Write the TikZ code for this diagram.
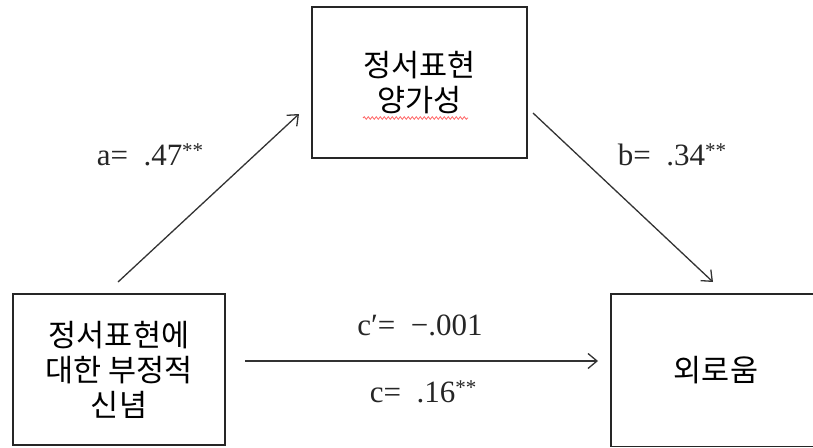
\documentclass[tikz,border=0pt]{standalone}
\usepackage{fontspec}
\setmainfont{Liberation Serif}
\newfontfamily\kr{Noto Sans CJK KR}
\usetikzlibrary{arrows.meta,decorations.pathmorphing}
\newcommand{\stars}{\raisebox{0.55ex}{\fontsize{21}{21}\selectfont **}}
\begin{document}
\begin{tikzpicture}[x=1pt,y=-1pt,
  boxline/.style={draw=black!85,line width=1.6pt},
  varbox/.style={boxline,minimum width=#1,minimum height=151pt,inner sep=0pt,
    font=\kr\fontsize{30.5}{35}\selectfont,align=center},
  patharrow/.style={draw=black!80,line width=1.3pt,-{Straight Barb[length=9pt,width=15pt,line width=1.3pt]}},
  coef/.style={font=\fontsize{31}{34}\selectfont,inner sep=0pt,text=black!85}]
\useasboundingbox (0,0) rectangle (813,447);
\node[varbox=215pt] (M) at (419.5,82.5) {정서표현\\양가성};
\node[varbox=212pt] (X) at (119,369.5) {정서표현에\\대한 부정적\\신념};
\node[varbox=230pt,draw=none] (Y) at (727,370) {};
\draw[boxline] (Y.north east) -- (Y.north west) -- (Y.south west) -- (Y.south east);
\node[font=\kr\fontsize{30.5}{35}\selectfont,inner sep=0pt] (Yt) at (716,370) {외로움};
\coordinate (a1) at (118,282);
\coordinate (a2) at (299,114);
\coordinate (b1) at (533,113);
\coordinate (b2) at (713,282);
\coordinate (c1) at (245,361);
\coordinate (c2) at (598,361);
\draw[patharrow] (a1) -- (a2);
\draw[patharrow] (b1) -- (b2);
\draw[patharrow] (c1) -- (c2);
\node[coef] (la) at (150,155) {a=\hspace{0.5em}.47\stars};
\node[coef] (lb) at (672,155) {b=\hspace{0.5em}.34\stars};
\node[coef] (lcp) at (420,325) {c′=\hspace{0.5em}−.001};
\node[coef] (lc) at (423,392) {c=\hspace{0.5em}.16\stars};
\draw[red!60,line width=0.8pt,decorate,decoration={snake,amplitude=1.3pt,segment length=4pt}] (363,118) -- (468,118);
\end{tikzpicture}
\end{document}
